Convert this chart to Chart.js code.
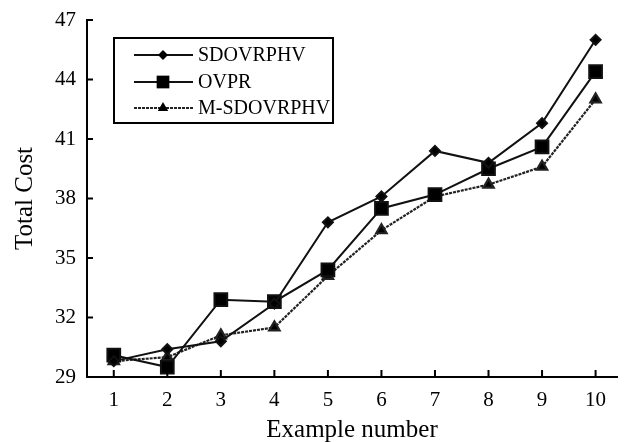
<!DOCTYPE html>
<html>
<head>
<meta charset="utf-8">
<script src="https://cdn.jsdelivr.net/npm/chart.js@4/dist/chart.umd.min.js"></script>
<style>
  body { margin: 0; background: #fff; }
  canvas { display: block; }
</style>
</head>
<body>
<canvas id="costChart" width="628" height="442"></canvas>
<script>
const exampleNumbers = [1, 2, 3, 4, 5, 6, 7, 8, 9, 10];
const sdovrphv = [29.8, 30.4, 30.8, 32.7, 36.8, 38.1, 40.4, 39.8, 41.8, 46.0];
const ovpr = [30.1, 29.5, 32.9, 32.8, 34.4, 37.5, 38.2, 39.5, 40.6, 44.4];
const mSdovrphv = [29.8, 30.0, 31.1, 31.5, 34.1, 36.4, 38.1, 38.7, 39.6, 43.0];
const yTicks = [29, 32, 35, 38, 41, 44, 47];
const xTicks = exampleNumbers;

const serif = '"Liberation Serif", "DejaVu Serif", serif';

function toPoints(values) {
    return values.map((v, i) => ({ x: exampleNumbers[i], y: v }));
}

// marker drawing shared by the legend box
function drawMarker(ctx, style, x, y, r) {
    ctx.beginPath();
    if (style === 'rectRot') {
        ctx.moveTo(x, y - r);
        ctx.lineTo(x + r, y);
        ctx.lineTo(x, y + r);
        ctx.lineTo(x - r, y);
    } else if (style === 'rect') {
        const s = r * Math.SQRT1_2;
        ctx.rect(x - s, y - s, s * 2, s * 2);
    } else {
        ctx.moveTo(x, y - r);
        ctx.lineTo(x + r * 0.87, y + r * 0.5);
        ctx.lineTo(x - r * 0.87, y + r * 0.5);
    }
    ctx.closePath();
    ctx.fill();
}

const boxLegend = {
    id: 'boxLegend',
    afterDraw(chart) {
        const ctx = chart.ctx;
        ctx.save();
        ctx.strokeStyle = '#000';
        ctx.lineWidth = 2;
        ctx.strokeRect(114, 38, 219, 85);
        ctx.font = '20px ' + serif;
        ctx.textBaseline = 'middle';
        ctx.fillStyle = '#000';
        const rows = [55, 82, 108];
        chart.data.datasets.forEach((ds, i) => {
            const y = rows[i];
            ctx.strokeStyle = ds.borderColor;
            ctx.lineWidth = ds.borderWidth;
            ctx.setLineDash(ds.borderDash || []);
            ctx.beginPath();
            ctx.moveTo(134, y);
            ctx.lineTo(193, y);
            ctx.stroke();
            ctx.setLineDash([]);
            ctx.fillStyle = '#000';
            drawMarker(ctx, ds.pointStyle, 163, y, ds.pointRadius);
            ctx.fillText(ds.label, 198, y + 1);
        });
        ctx.restore();
    }
};

// inward tick marks on both axes
const innerTicks = {
    id: 'innerTicks',
    afterDraw(chart) {
        const ctx = chart.ctx;
        const xs = chart.scales.x, ys = chart.scales.y;
        const area = chart.chartArea;
        ctx.save();
        ctx.strokeStyle = '#000';
        ctx.lineWidth = 2;
        ctx.beginPath();
        yTicks.forEach(v => {
            const y = ys.getPixelForValue(v);
            ctx.moveTo(area.left, y);
            ctx.lineTo(area.left + 6, y);
        });
        xTicks.forEach(v => {
            const x = xs.getPixelForValue(v);
            ctx.moveTo(x, area.bottom);
            ctx.lineTo(x, area.bottom - 7);
        });
        ctx.stroke();
        ctx.restore();
    }
};

const ctx = document.getElementById('costChart').getContext('2d');

const costChart = new Chart(ctx, {
    type: 'line',
    data: {
        datasets: [{
            label: 'SDOVRPHV',
            data: toPoints(sdovrphv),
            borderColor: '#111',
            backgroundColor: '#000',
            borderWidth: 2,
            pointStyle: 'rectRot',
            pointRadius: 5
        }, {
            label: 'OVPR',
            data: toPoints(ovpr),
            borderColor: '#111',
            backgroundColor: '#000',
            borderWidth: 2,
            pointStyle: 'rect',
            pointRadius: 9
        }, {
            label: 'M-SDOVRPHV',
            data: toPoints(mSdovrphv),
            borderColor: '#222',
            backgroundColor: '#000',
            borderWidth: 2.2,
            borderDash: [3, 1],
            pointStyle: 'triangle',
            pointRadius: 6
        }]
    },
    options: {
        responsive: false,
        animation: false,
        devicePixelRatio: 1,
        layout: { padding: { top: 20, right: 0, left: 0, bottom: 0 } },
        plugins: {
            legend: { display: false },
            tooltip: { enabled: false }
        },
        elements: { line: { tension: 0 } },
        scales: {
            x: {
                type: 'linear',
                min: 0.5,
                max: 10.4,
                afterBuildTicks: scale => { scale.ticks = xTicks.map(v => ({ value: v })); },
                afterFit: scale => { scale.height = 65; },
                grid: { display: false },
                border: { display: true, color: '#000', width: 2 },
                ticks: {
                    color: '#000',
                    padding: 3,
                    maxRotation: 0,
                    font: { family: serif, size: 21 }
                },
                title: {
                    display: true,
                    text: 'Example number',
                    color: '#000',
                    padding: { top: 0, bottom: -3 },
                    font: { family: serif, size: 25 }
                }
            },
            y: {
                min: 29,
                max: 47,
                afterBuildTicks: scale => { scale.ticks = yTicks.map(v => ({ value: v })); },
                afterFit: scale => { scale.width = 87; },
                grid: { display: false },
                border: { display: true, color: '#000', width: 2 },
                ticks: {
                    color: '#000',
                    padding: 3,
                    font: { family: serif, size: 21 }
                },
                title: {
                    display: true,
                    text: 'Total Cost',
                    color: '#000',
                    padding: { top: 10, bottom: 0 },
                    font: { family: serif, size: 25 }
                }
            }
        }
    },
    plugins: [boxLegend, innerTicks]
});
</script>
</body>
</html>
